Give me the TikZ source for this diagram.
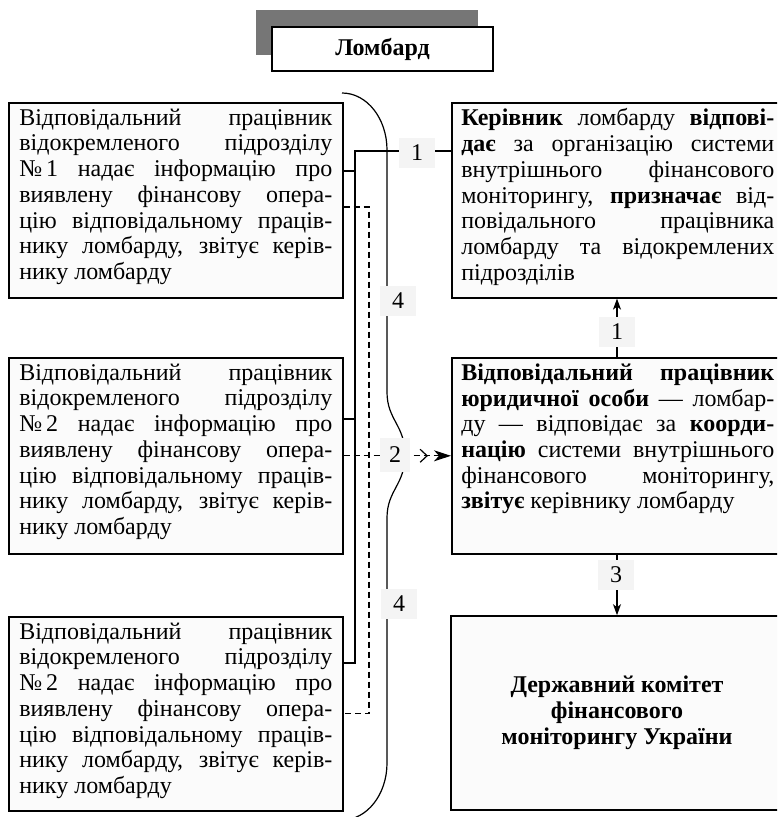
\documentclass[tikz,border=0pt]{standalone}
\usepackage{fontspec}
\setmainfont{Liberation Serif}
\usetikzlibrary{arrows.meta}

\definecolor{boxfill}{HTML}{FBFBFB}
\definecolor{lblfill}{HTML}{F4F4F4}
\definecolor{shadowgray}{HTML}{767676}

% text of a branch responsible officer
\newcommand\branchtext[1]{Відповідальний працівник\linebreak
відокремленого підрозділу\linebreak
№\,#1 надає інформацію про\linebreak
виявлену фінансову опера-\linebreak
цію відповідальному праців-\linebreak
нику ломбарду, звітує керів-\linebreak
нику ломбарду}

\newcommand\boxtext[2]{\parbox[t][#1][t]{313pt}{\noindent\lineskiplimit=-20pt #2}}

\begin{document}
\begin{tikzpicture}[x=1pt,y=-1pt,
  font=\fontsize{24}{25.7}\selectfont,
  box/.style={draw, line width=1.6pt, fill=boxfill, anchor=north west,
    inner ysep=6pt},
  lbox/.style={box, inner xsep=10.5pt},
  rbox/.style={box, inner xsep=9.5pt},
  link/.style={line width=1.2pt},
  dlink/.style={link, dash pattern=on 6pt off 4pt},
  lbl/.style={fill=lblfill, font=\fontsize{24}{24}\selectfont,
    minimum width=36pt, minimum height=30pt, inner sep=0pt},
  tip/.style={-{Stealth[length=11pt,width=8pt,inset=3pt]}}]

\useasboundingbox (0,0) rectangle (777,817);
\clip (0,0) rectangle (777,817);

% header with its shadow
\fill[shadowgray] (256,10) rectangle (478,55);
\node[draw, line width=1.6pt, fill=white, minimum width=221pt,
  minimum height=44pt, inner sep=0pt] (head) at (382.5,49)
  {\bfseries Ломбард};

% left column
\node[lbox] (l1) at (8,102) {\boxtext{183pt}{\branchtext{1}}};
\node[lbox] (l2) at (8,357) {\boxtext{184pt}{\branchtext{2}}};
\node[lbox] (l3) at (8,616) {\boxtext{182pt}{\branchtext{2}}};

% right column
\node[rbox] (r1) at (451,102) {\boxtext{183pt}{%
\textbf{Керівник} ломбарду \textbf{відпові-}\linebreak
\textbf{дає} за організацію системи\linebreak
внутрішнього фінансового\linebreak
моніторингу, \textbf{призначає} від-\linebreak
повідального працівника\linebreak
ломбарду та відокремлених\linebreak
підрозділів}};
\node[rbox] (r2) at (451,357) {\boxtext{184pt}{%
\textbf{Відповідальний працівник}\linebreak
\textbf{юридичної особи} — ломбар-\linebreak
ду — відповідає за \textbf{коорди-}\linebreak
\textbf{націю} системи внутрішнього\linebreak
фінансового моніторингу,\linebreak
\textbf{звітує} керівнику ломбарду}};
\node[draw, line width=1.6pt, fill=boxfill, minimum width=332pt,
  minimum height=194pt, inner sep=0pt, align=center,
  font=\fontsize{24}{26}\selectfont\bfseries] (r3) at (617,713)
  {Державний комітет\\фінансового\\моніторингу України};

% bus junctions
\coordinate (sbus) at (355,151);
\coordinate (dbus) at (369,207);
\coordinate (s1) at (0,171);
\coordinate (s2) at (0,419);
\coordinate (s3) at (0,663);

% solid bus: every branch to the manager
\draw[link] (r1.west |- sbus) -- (sbus) -- (sbus |- s3) -- (l3.east |- s3);
\draw[link] (l1.east |- s1) -- (sbus |- s1);
\draw[link] (l2.east |- s2) -- (sbus |- s2);

% dashed bus: reports to the responsible officer
\draw[dlink] (l1.east |- dbus) -- (dbus) -- (dbus |- l3.east) -- (l3.east);
\draw[dlink, -{Straight Barb[length=7pt,width=13pt,sep=6pt]Stealth[length=17pt,width=11pt,inset=5pt]}]
  (l2.east) -- (r2.west);

% brace grouping the branches
\draw[link] (342,93) .. controls (367,93) and (387,118.5) .. (387,150)
  -- (387,392) .. controls (387,420) and (405,425) .. (405,455)
  .. controls (405,485) and (387,490) .. (387,518)
  -- (387,763) .. controls (387,794.5) and (367,820) .. (342,820);

% vertical links on the right
\draw[link, tip] (r2.north -| 617,0) -- (r1.south -| 617,0);
\draw[link, tip] (r2.south -| 617,0) -- (r3.north -| 617,0);

% link labels
\node[lbl] at (417,153) {1};
\node[lbl] at (398,301) {4};
\node[lbl, minimum width=30pt, minimum height=34pt] at (395,455) {2};
\node[lbl] at (399,604) {4};
\node[lbl] at (617,332) {1};
\node[lbl] at (616,575) {3};
\end{tikzpicture}
\end{document}
